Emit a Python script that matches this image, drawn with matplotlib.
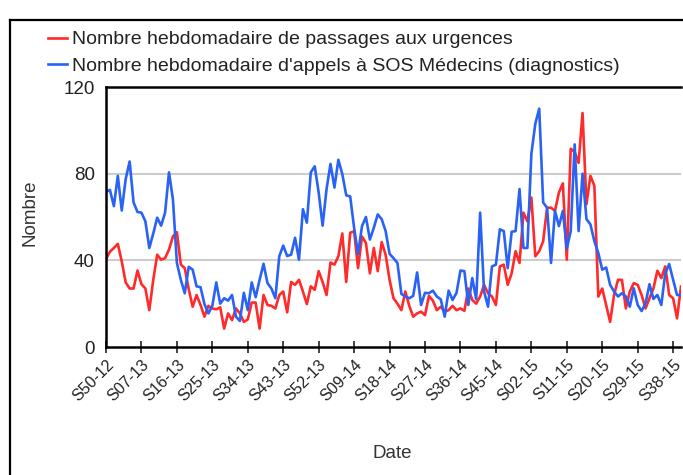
import numpy as np
import matplotlib
matplotlib.use("Agg")
import matplotlib.pyplot as plt
from matplotlib.lines import Line2D

plt.rcParams['font.family'] = ['Liberation Sans', 'DejaVu Sans']

W, H = 683, 475

# weekly values, S50-12 .. S40-15
urgences = [40.6, 44, 45.7, 47.6, 39.5, 29.8, 27, 27, 35.3, 29,
            27, 17, 31, 42.6, 40.3, 41, 45, 51, 53, 38,
            36.4, 26.7, 18.6, 24, 19.4, 14, 19, 17.8, 17.4, 18.3,
            8.5, 15.5, 12.4, 17.8, 15.5, 11.6, 12.7, 20.5, 20.5, 8.5,
            24, 19.4, 19, 17.8, 24, 25.6, 16, 30, 28.7, 31,
            25.6, 19.8, 28, 26.4, 35, 30, 24, 39, 38, 41.9,
            52.4, 30, 52.7, 53.5, 36.4, 51, 48, 34, 45.7, 35,
            48.4, 42.6, 31, 22.5, 20, 17, 25.6, 19, 14, 15.5,
            16.3, 14.7, 23.6, 21.4, 17, 18.6, 16.3, 17, 19, 17,
            17.8, 16.7, 27, 21.7, 20, 23.3, 28.7, 24.8, 23.3, 19.4,
            37.2, 38, 28.7, 34, 44.2, 38.8, 62, 58, 69, 41.9,
            44.2, 48.8, 64.3, 64.3, 62.8, 71.3, 75.5, 40.3, 91.5, 90,
            85, 108, 65.9, 79, 74.4, 23.3, 27, 19.4, 11.6, 24,
            31, 31, 17.8, 25.6, 29.5, 28.7, 24, 17.8, 22.5, 27,
            35.2, 31.8, 37.2, 24, 22.5, 13.2, 27.9]

sos = [71.6, 72.5, 65, 79, 63, 77.5, 85.6, 66.7, 62.3, 62,
       58, 45.7, 52.4, 59.7, 56, 62, 80.6, 68, 38.8, 31,
       24.8, 37, 35.7, 28, 27.6, 19.8, 15.5, 19, 29.8, 20,
       22.5, 21.4, 24, 14, 12, 25, 17, 29.8, 23, 31,
       38.4, 29.5, 27, 22.5, 41.9, 46.8, 42, 42.6, 50.4, 40.3,
       63.6, 57.4, 80.6, 83.4, 71.3, 56, 72.9, 84.5, 73.6, 86.4,
       79.8, 70, 69.5, 55, 43, 55.8, 60, 49.6, 55, 61.2,
       59, 53.5, 43, 41, 38.8, 24.5, 23.3, 22.5, 23.6, 34.4,
       19.4, 25, 24.8, 26, 23.3, 22, 14, 26, 21.7, 25,
       35.3, 35, 19.4, 31.8, 22, 62, 25.6, 18.6, 37.2, 38,
       54.3, 53.5, 36.4, 53.2, 53.5, 72.9, 45.7, 45.7, 89, 103,
       110, 66.7, 64.3, 38.8, 62.8, 55.8, 62.8, 45.4, 53.5, 93.5,
       53.5, 80, 59, 56.6, 48.8, 43.4, 35.7, 36.7, 28.7, 25.6,
       23.3, 24.8, 23.3, 18.6, 27.1, 19.4, 16.6, 20.2, 29, 22.2,
       24, 19.4, 34, 38.3, 31, 24, 24]

tick_labels = ['S50-12', 'S07-13', 'S16-13', 'S25-13', 'S34-13', 'S43-13',
               'S52-13', 'S09-14', 'S18-14', 'S27-14', 'S36-14', 'S45-14',
               'S02-15', 'S11-15', 'S20-15', 'S29-15', 'S38-15']

labels = ['Nombre hebdomadaire de passages aux urgences',
          "Nombre hebdomadaire d'appels à SOS Médecins (diagnostics)"]

weeks = np.arange(len(sos))

fig = plt.figure(figsize=(W / 100, H / 100), dpi=100)
ax = fig.add_axes([106 / W, 1 - 347 / H, (681 - 106) / W, (347 - 87) / H])

ax.plot(weeks, urgences, color='#ff2a2a', lw=1.9, label=labels[0])
ax.plot(weeks, sos, color='#2962f5', lw=1.9, label=labels[1])

ax.set_xlim(0, len(sos) - 1)
ax.set_ylim(0, 120)
ax.set_yticks([0, 40, 80, 120])
ax.set_xticks(np.arange(0, len(sos), 9))
ax.set_xticklabels(tick_labels, rotation=45, ha='right', va='top',
                   rotation_mode='anchor', fontsize=11.5)
ax.tick_params(axis='x', direction='inout', length=8, width=1.2, pad=3,
               colors='#222222')
ax.tick_params(axis='y', length=0, labelsize=13.5, pad=8, colors='#222222')

for y in [40, 80]:
    ax.axhline(y, color='#cccccc', lw=1.5, zorder=0)

for s in ['left', 'bottom', 'top']:
    ax.spines[s].set_linewidth(1.8)
    ax.spines[s].set_color('black')
ax.spines['right'].set_visible(False)

fig.text(30 / W, 1 - 213 / H, 'Nombre', rotation=90, ha='center',
         va='center', fontsize=13.5, color='#333333')
fig.text(392 / W, 1 - 453 / H, 'Date', ha='center', va='center',
         fontsize=13.5, color='#333333')

fig.legend(loc='upper left', bbox_to_anchor=(40 / W, 1 - 23 / H),
           frameon=False, fontsize=14, handlelength=1.0,
           handletextpad=0.25, labelspacing=0.45, borderaxespad=0,
           labelcolor='#222222')

# outer frame
fig.add_artist(Line2D([10 / W, 10 / W], [0, 1 - 20 / H], color='black',
                      lw=1.6, transform=fig.transFigure))
fig.add_artist(Line2D([10 / W, 1], [1 - 20 / H, 1 - 20 / H], color='black',
                      lw=1.6, transform=fig.transFigure))

fig.savefig('out.png', dpi=100)
